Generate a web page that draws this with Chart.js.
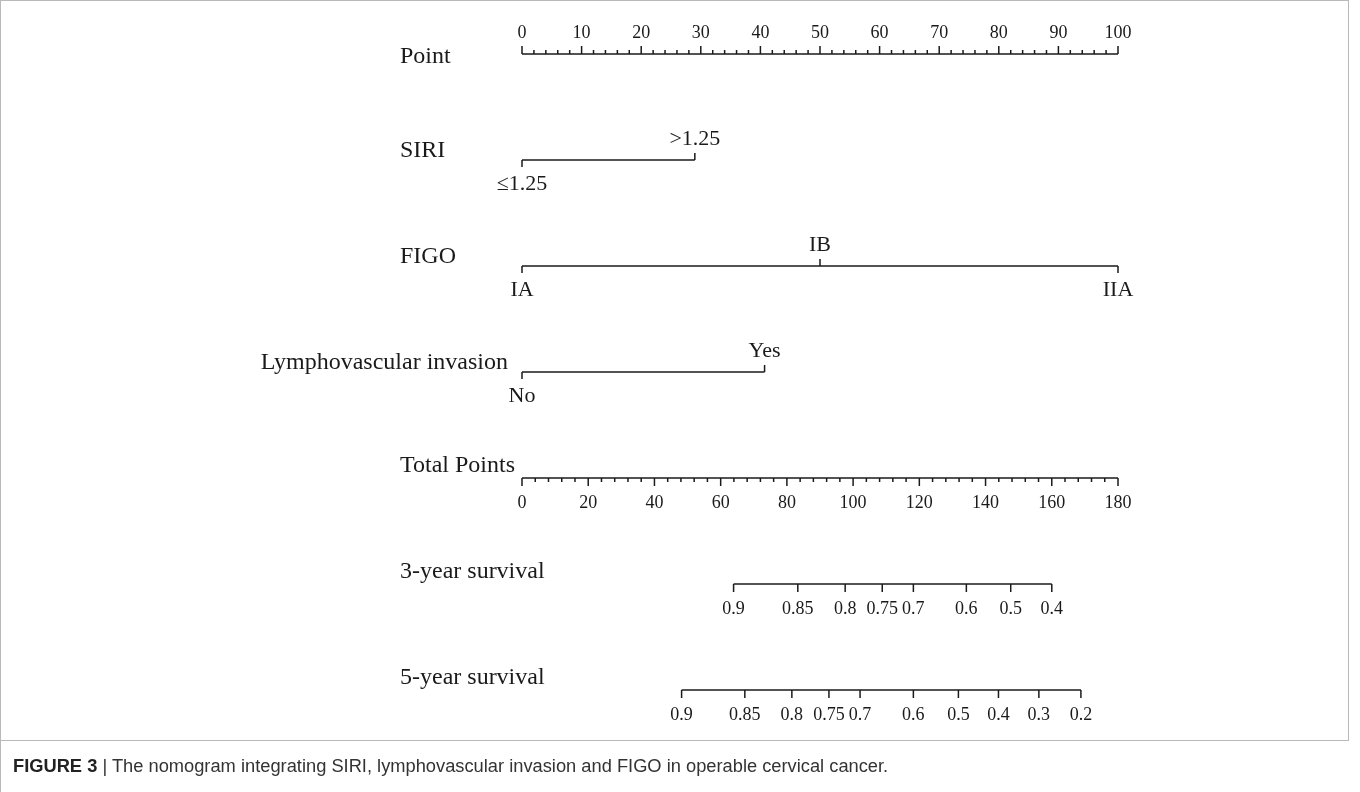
<!DOCTYPE html>
<html>
<head>
<meta charset="utf-8">
<script src="https://cdn.jsdelivr.net/npm/chart.js@4.4.1/dist/chart.umd.min.js"></script>
<style>
  html, body { margin: 0; padding: 0; background: #fff; }
  #wrap { position: relative; width: 1360px; height: 792px; overflow: hidden; }
  #frame { position: absolute; left: 0; top: 0; width: 1347px; height: 739px; border: 1px solid #b9b9b9; }
  #capLine { position: absolute; left: 0; top: 740px; width: 1px; height: 52px; background: #b9b9b9; }
  #chartBox { position: absolute; left: 0; top: 0; width: 1360px; height: 792px; }
  #caption { position: absolute; left: 13px; top: 755px; font: 18.3px "Liberation Sans", Arial, sans-serif; color: #333; white-space: nowrap; }
  #caption b { color: #222; }
</style>
</head>
<body>
<div id="wrap">
  <div id="frame"></div>
  <div id="capLine"></div>
  <div id="chartBox"><canvas id="nomogram"></canvas></div>
  <div id="caption"><b>FIGURE 3</b> | The nomogram integrating SIRI, lymphovascular invasion and FIGO in operable cervical cancer.</div>
</div>
<script>
// Nomogram rows, top to bottom
const rowNames = ['Point', 'SIRI', 'FIGO', 'Lymphovascular invasion', 'Total Points', '3-year survival', '5-year survival'];

// Point scale (0-100), labelled every 10
const pointTicks = [0, 10, 20, 30, 40, 50, 60, 70, 80, 90, 100];

// Predictor levels and the points they score
const siriLevels = ['\u22641.25', '>1.25'];
const siriPoints = [0, 29];
const figoLevels = ['IA', 'IB', 'IIA'];
const figoPoints = [0, 50, 100];
const lviLevels = ['No', 'Yes'];
const lviPoints = [0, 40.7];

// Total points scale (0-180), labelled every 20
const totalTicks = [0, 20, 40, 60, 80, 100, 120, 140, 160, 180];

// Survival probabilities and the total points they sit at
const surv3Labels = ['0.9', '0.85', '0.8', '0.75', '0.7', '0.6', '0.5', '0.4'];
const surv3Total = [63.9, 83.3, 97.6, 108.8, 118.2, 134.2, 147.6, 160];
const surv5Labels = ['0.9', '0.85', '0.8', '0.75', '0.7', '0.6', '0.5', '0.4', '0.3', '0.2'];
const surv5Total = [48.2, 67.3, 81.5, 92.7, 102.1, 118.2, 131.8, 143.9, 156.1, 168.8];

const INK = '#1a1a1a';
const SERIF = '"Liberation Serif", "Times New Roman", serif';

// one dataset per row, the line runs between the first and last value
function rowLine(values, row, axis) {
  return {
    data: values.map(v => ({ x: v, y: row })),
    xAxisID: axis,
    showLine: true,
    borderColor: INK,
    borderWidth: 1.5,
    pointRadius: 0,
    clip: false
  };
}

// tick marks and text of the nomogram
const nomoPlugin = {
  id: 'nomo',
  afterDatasetsDraw(chart) {
    const { ctx, scales } = chart;
    const xs = scales.x, xt = scales.x2, ys = scales.y;
    ctx.save();
    ctx.strokeStyle = INK;
    ctx.fillStyle = INK;
    ctx.lineWidth = 1.5;

    const tick = (px, py, len) => {
      ctx.beginPath();
      ctx.moveTo(px, py);
      ctx.lineTo(px, py + len);
      ctx.stroke();
    };
    const text = (s, px, py, size, align) => {
      ctx.font = size + 'px ' + SERIF;
      ctx.textAlign = align || 'center';
      ctx.textBaseline = 'middle';
      ctx.fillText(s, px, py);
    };

    // row names
    rowNames.forEach((name, i) => {
      const py = ys.getPixelForValue(i);
      if (i === 0) text(name, 400, py + 3, 24, 'left');
      else if (i === 3) text(name, xs.left - 14, py - 9, 24, 'right');
      else if (i < 3) text(name, 400, py - 9, 24, 'left');
      else text(name, 400, py - 12, 24, 'left');
    });

    // Point axis: ticks up, minor every 2
    let py = ys.getPixelForValue(0);
    for (let v = pointTicks[0]; v <= pointTicks[pointTicks.length - 1]; v += 2) {
      tick(xs.getPixelForValue(v), py, v % 10 === 0 ? -8 : -4);
    }
    pointTicks.forEach(v => text(String(v), xs.getPixelForValue(v), py - 21, 18));

    // categorical predictors: alternate labels below / above
    const cat = (levels, pts, row) => {
      const y0 = ys.getPixelForValue(row);
      levels.forEach((lab, k) => {
        const px = xs.getPixelForValue(pts[k]);
        const up = k % 2 === 1;
        tick(px, y0, up ? -7 : 7);
        text(lab, px, up ? y0 - 21 : y0 + 24, 22);
      });
    };
    cat(siriLevels, siriPoints, 1);
    cat(figoLevels, figoPoints, 2);
    cat(lviLevels, lviPoints, 3);

    // Total points axis: ticks down, minor every 4
    py = ys.getPixelForValue(4);
    for (let v = totalTicks[0]; v <= totalTicks[totalTicks.length - 1]; v += 4) {
      tick(xt.getPixelForValue(v), py, v % 20 === 0 ? 8 : 4);
    }
    totalTicks.forEach(v => text(String(v), xt.getPixelForValue(v), py + 25, 18));

    // survival axes
    const surv = (labels, pts, row) => {
      const y0 = ys.getPixelForValue(row);
      labels.forEach((lab, k) => {
        const px = xt.getPixelForValue(pts[k]);
        tick(px, y0, 8);
        text(lab, px, y0 + 25, 18);
      });
    };
    surv(surv3Labels, surv3Total, 5);
    surv(surv5Labels, surv5Total, 6);

    ctx.restore();
  }
};

new Chart(document.getElementById('nomogram'), {
  type: 'scatter',
  data: {
    datasets: [
      rowLine([pointTicks[0], pointTicks[pointTicks.length - 1]], 0, 'x'),
      rowLine(siriPoints, 1, 'x'),
      rowLine(figoPoints, 2, 'x'),
      rowLine(lviPoints, 3, 'x'),
      rowLine([totalTicks[0], totalTicks[totalTicks.length - 1]], 4, 'x2'),
      rowLine(surv3Total, 5, 'x2'),
      rowLine(surv5Total, 6, 'x2')
    ]
  },
  options: {
    responsive: true,
    maintainAspectRatio: false,
    animation: false,
    layout: { padding: { left: 522, right: 242, top: 54, bottom: 102 } },
    scales: {
      x: { type: 'linear', min: 0, max: 100, display: false },
      x2: { type: 'linear', min: 0, max: 180, display: false },
      y: { type: 'linear', min: 0, max: 6, reverse: true, display: false }
    },
    plugins: { legend: { display: false }, tooltip: { enabled: false } }
  },
  plugins: [nomoPlugin]
});
</script>
</body>
</html>
